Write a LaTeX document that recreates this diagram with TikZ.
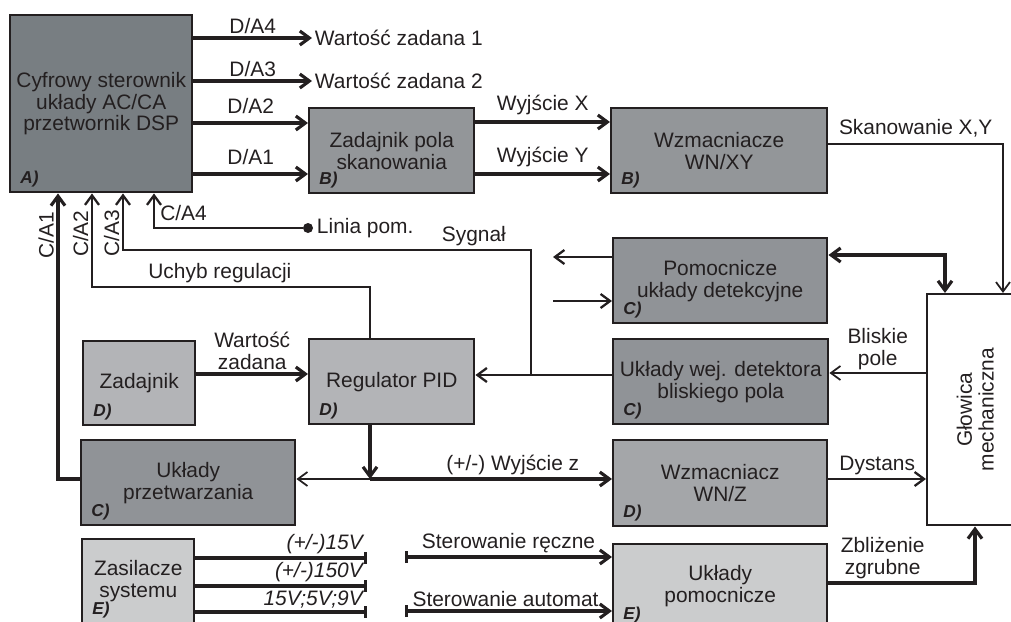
\documentclass[tikz,border=0pt]{standalone}
\usepackage{fontspec}
\setmainfont{Liberation Sans}
\usetikzlibrary{arrows.meta}

\definecolor{szaryA}{HTML}{787E82}
\definecolor{szaryB}{HTML}{939699}
\definecolor{szaryC}{HTML}{909397}
\definecolor{szaryD}{HTML}{A4A6A9}
\definecolor{szaryDj}{HTML}{B3B4B7}
\definecolor{szaryE}{HTML}{CBCCCD}
\definecolor{tekst}{HTML}{231F20}

\tikzset{
    grot/.tip={Straight Barb[length=1.9mm,width=2.8mm]},
    belka/.tip={Bar[width=2.4mm]},
    blok/.style={draw, line width=1.4pt, align=center, inner sep=2pt, anchor=north west},
    znak/.style={font=\fontsize{9.8}{10}\selectfont\bfseries\itshape, inner sep=0pt,
        anchor=south west, xshift=2.2mm, yshift=1.2mm},
    opis/.style={inner sep=1.5pt},
    pion/.style={opis, rotate=90, anchor=south},
    lin/.style={line width=1.3pt},
    gruby/.style={line width=1.8pt},
    cienki/.style={line width=1pt},
}

\begin{document}
\begin{tikzpicture}[x=0.2mm, y=-0.2mm, color=tekst]
        \fontsize{11.9}{12.4}\selectfont
        \useasboundingbox (0, 0) rectangle (1011, 621);
        \clip (0, 0) rectangle (1011, 621);

        % bloki
        \node[blok, fill=szaryA, minimum width=36.4mm, minimum height=35.4mm] (dsp) at (9, 14)
            {Cyfrowy sterownik\\układy AC/CA\\przetwornik DSP};
        \node[blok, fill=szaryB, minimum width=33mm, minimum height=17mm] (zps) at (308, 107) {Zadajnik pola\\skanowania};
        \node[blok, fill=szaryB, minimum width=43.2mm, minimum height=17mm] (wnxy) at (610, 107) {Wzmacniacze\\WN/XY};
        \node[blok, fill=szaryC, minimum width=42.8mm, minimum height=17mm] (pom) at (612, 237) {Pomocnicze\\układy detekcyjne};
        \node[blok, fill=szaryC, minimum width=43mm, minimum height=17mm] (wej) at (612, 338) {Układy wej. detektora\\bliskiego pola};
        \node[blok, fill=white, minimum width=19.2mm, minimum height=46.2mm] (glow) at (926, 293) {};
        \node[opis, rotate=90, align=center] (glowt) at (glow.center) {Głowica\\mechaniczna};
        \node[blok, fill=szaryDj, minimum width=33mm, minimum height=17mm] (pid) at (308, 338) {Regulator PID};
        \node[blok, fill=szaryDj, minimum width=22.4mm, minimum height=16.8mm] (zad) at (82, 340) {Zadajnik};
        \node[blok, fill=szaryC, minimum width=42.8mm, minimum height=17mm] (prz) at (80, 439) {Układy\\przetwarzania};
        \node[blok, fill=szaryD, minimum width=42.8mm, minimum height=17.2mm] (wnz) at (612, 439) {Wzmacniacz\\WN/Z};
        \node[blok, fill=szaryE, minimum width=22.4mm, minimum height=16.8mm] (zas) at (81, 538) {Zasilacze\\systemu};
        \node[blok, fill=szaryE, minimum width=42.8mm, minimum height=16.8mm] (ukp) at (612, 543) {Układy\\pomocnicze};

        \foreach \b/\t in {dsp/A, zps/B, wnxy/B, pom/C, wej/C, prz/C, pid/D, zad/D, wnz/D, zas/E, ukp/E}
            \node[znak] at (\b.south west) {\t)};

        % wyjscia D/A
        \node[opis, anchor=west] (wz1) at (312, 38) {Wartość zadana 1};
        \node[opis, anchor=west] (wz2) at (312, 81) {Wartość zadana 2};
        \draw[-grot, gruby] (dsp.east |- wz1) -- (wz1.west) node[opis, midway, above] {D/A4};
        \draw[-grot, gruby] (dsp.east |- wz2) -- (wz2.west) node[opis, midway, above] {D/A3};
        \draw[-grot, gruby] (dsp.east |- 0,123) -- (zps.west |- 0,123) node[opis, midway, above=1mm] {D/A2};
        \draw[-grot, gruby] (dsp.east |- 0,174) -- (zps.west |- 0,174) node[opis, midway, above=1mm] {D/A1};

        % skanowanie
        \draw[-grot, gruby] (zps.east |- 0,122) -- (wnxy.west |- 0,122) node[opis, midway, above=0.6mm] {Wyjście X};
        \draw[-grot, gruby] (zps.east |- 0,174) -- (wnxy.west |- 0,174) node[opis, midway, above=0.6mm] {Wyjście Y};
        \draw[-grot, cienki] (wnxy.east |- 0,144) -| (glow.north -| 1003,0) node[opis, pos=0.25, above=0.6mm] {Skanowanie X,Y};

        % detekcja
        \coordinate (pl1) at (553, 257);
        \coordinate (pl2) at (553, 301);
        \draw[grot-grot, gruby] (pom.east |- 0,255) -| (glow.north -| 945,0);
        \draw[-grot, lin] (pom.west |- pl1) -- (pl1);
        \draw[-grot, lin] (pl2) -- (pom.west |- pl2);
        \draw[-grot, cienki] (glow.west |- 0,373) -- (wej.east |- 0,373) node[opis, midway, above, align=center] {Bliskie\\pole};

        % petla regulacji
        \coordinate (syg) at (531, 375);
        \draw[-grot, lin] (wej.west |- syg) -- (pid.east |- syg);
        \draw[-grot, lin] (syg) |- (123, 250) node[opis, pos=0.57, above] {Sygnał}
            -- node[pion, pos=0.29] {C/A3} (dsp.south -| 123,0);
        \draw[-grot, lin] (pid.north -| 370,0) |- (92, 287) node[opis, pos=0.77, above] {Uchyb regulacji}
            -- node[pion, pos=0.57] {C/A2} (dsp.south -| 92,0);
        \node[circle, fill, inner sep=0pt, minimum size=2mm] (lp) at (308, 228) {};
        \node[opis, anchor=west] (lpt) at (314, 228) {Linia pom.};
        \draw[-grot, lin] (lp) -| (dsp.south -| 154,0) node[opis, pos=0.72, right=0.5mm] {C/A4};
        \draw[-grot, gruby] (prz.west |- 0,479) -| node[pion, pos=0.927] {C/A1} (dsp.south -| 58,0);
        \draw[-grot, gruby] (zad.east |- 0,374) -- (pid.west |- 0,374) node[opis, midway, above, align=center] {Wartość\\zadana};

        % wyjscie z
        \coordinate (wyz) at (370, 479);
        \draw[-grot, gruby] (pid.south -| wyz) -- (wyz);
        \draw[-grot, cienki] (wyz) -- (prz.east |- wyz);
        \draw[-grot, gruby] (wyz) -- (wnz.west |- wyz) node[opis, pos=0.59, above] {(+/-) Wyjście z};
        \draw[-grot, lin] (wnz.east |- 0,479) -- (glow.west |- 0,479) node[opis, midway, above] {Dystans};
        \draw[-grot, gruby] (ukp.east |- 0,583) -| node[opis, pos=0.185, above, align=center] {Zbliżenie\\zgrubne} (glow.south -| 975,0);

        % sterowanie
        \coordinate (str) at (405, 557);
        \coordinate (sta) at (405, 611);
        \draw[belka-grot, gruby] (str) -- (ukp.west |- str) node[opis, midway, above] {Sterowanie ręczne};
        \draw[belka-grot, gruby] (sta) -- (ukp.west |- sta) node[opis, midway, above] {Sterowanie automat.};

        % zasilanie
        \foreach \y/\t [count=\i] in {558/{(+/-)15V}, 586/{(+/-)150V}, 612/{15V;5V;9V}} {
            \coordinate (zz\i) at (367, \y);
            \draw[-belka, gruby] (zas.east |- zz\i) -- (zz\i) node[opis, above left, font=\itshape] {\t};
        }
    \end{tikzpicture}
\end{document}
